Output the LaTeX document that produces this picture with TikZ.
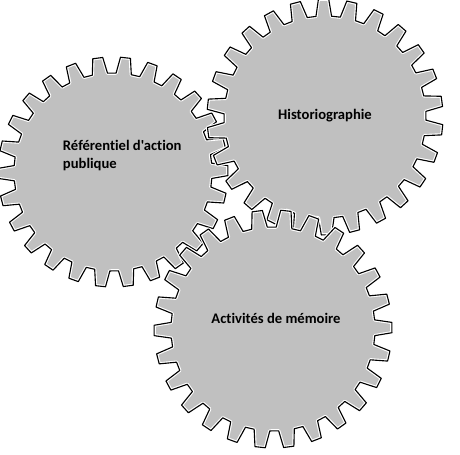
\documentclass[tikz,border=0pt]{standalone}
\usepackage{fontspec}
\newfontfamily\gearfont{Carlito}[Ligatures=NoCommon]
\usetikzlibrary{positioning}

\definecolor{gearfill}{RGB}{192,192,192}
\newcommand{\toothangle}{13.846}
% one gear with 26 teeth: center, rotation, tip radius, root radius
\newcommand{\drawgear}[4]{%
  \path[gear, shift={#1}] ({#2-0.32*\toothangle}:#4)
    \foreach \k in {0,...,25} {
      -- ({#2+\k*\toothangle-0.32*\toothangle}:#4)
      -- ({#2+\k*\toothangle-0.18*\toothangle}:#3)
      -- ({#2+\k*\toothangle+0.18*\toothangle}:#3)
      -- ({#2+\k*\toothangle+0.32*\toothangle}:#4)
    } -- cycle;
}
\tikzset{
  gear/.style={preaction={fill=gearfill}, draw=white, line width=2.4pt,
    line join=round, postaction={draw=black, line width=0.8pt}},
  gearlabel/.style={font=\gearfont\bfseries\fontsize{10.4}{12.8}\selectfont, text=black}
}

\begin{document}
\begin{tikzpicture}[x=0.025cm, y=-0.025cm]
\useasboundingbox (0,0) rectangle (460,454);

% Gears
\drawgear{(113,172)}{-14.54}{115}{99}
\drawgear{(325,117)}{172.38}{118}{101}
\drawgear{(273,329)}{290.07}{119}{102}

% Labels
\node[gearlabel, align=left, anchor=west] (referentiel) at (58,156) {Référentiel d'action\\publique};
\node[gearlabel] (historio) at (325,116) {Historiographie};
\node[gearlabel] (memoire) at (276,318) {Activités de mémoire};
\end{tikzpicture}
\end{document}
